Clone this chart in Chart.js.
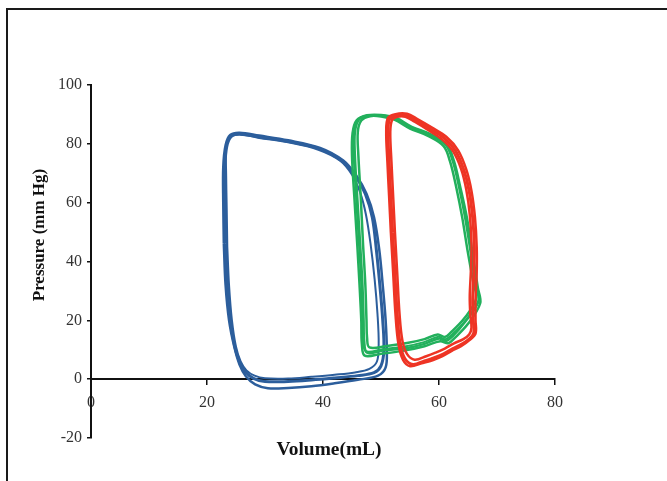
<!DOCTYPE html>
<html>
<head>
<meta charset="utf-8">
<script src="https://cdn.jsdelivr.net/npm/chart.js@4"></script>
<style>body{margin:0;background:#fff}</style>
</head>
<body>
<canvas id="pv" width="667" height="481"></canvas>
<script>
const xTicks = [0, 20, 40, 60, 80];
const yTicks = [-20, 0, 20, 40, 60, 80, 100];

// volume (mL), pressure (mm Hg) pairs
const blueLoop1 = [[23.2,46],[23.5,32],[24,20],[24.8,11],[25.6,6],[26.6,2.5],[28,0.3],[30,-0.8],[34,-0.8],[38,-0.3],[42,0.4],[46,1.2],[48.8,2.2],[50,4.5],[50.5,10],[50.3,20],[49.8,32],[49.2,44],[48.5,55],[47.3,63],[45.6,69],[43.4,74],[39.5,78.2],[34,80.8],[29,82.3],[25.8,83.3],[24.2,82.5],[23.4,79],[23.1,72],[23.1,60],[23.2,46]];
const blueLoop2 = [[22.9,46],[23.2,32],[23.8,20],[24.7,11],[25.6,5],[26.7,1],[28.3,-1.8],[30.5,-3.1],[34,-3],[38,-2.4],[42,-1.4],[46,-0.2],[49.5,1.2],[50.8,4],[51,10],[50.8,20],[50.3,32],[49.7,44],[48.8,55],[47.5,63],[45.7,69.3],[43.5,74.3],[39.5,78.6],[34,81.2],[29,82.8],[25.6,83.8],[24,83],[23.2,79.5],[22.8,72],[22.8,60],[22.9,46]];
const blueLoop3 = [[23.5,45],[23.8,32],[24.3,20],[25,11],[25.8,6],[26.8,3],[28.2,1.2],[30,0.3],[34,0.2],[38,0.8],[42,1.5],[45.5,2.3],[48,3.5],[49.3,6],[49.6,12],[49.4,22],[48.9,34],[48.2,46],[47.4,56],[46.4,63.5],[45,69.5],[43,74.2],[39.2,78],[34,80.5],[29,82],[25.5,83.2],[23.9,82],[23.3,78.5],[23.3,70],[23.4,58],[23.5,45]];

const greenLoop1 = [[46.4,46],[46.8,32],[47,20],[47.1,13],[47.6,9],[50.5,9.8],[54.5,10.6],[57.5,12],[60,13.8],[61.2,13],[62.3,14.5],[64.5,19.5],[66.8,26.5],[66.3,32],[65.4,44],[64.5,55],[63.5,65],[62.4,74],[61.2,79.5],[58.5,83],[55.2,85.5],[52.5,88.5],[50,89.6],[47.8,89.6],[46.2,88.2],[45.5,84],[45.5,76],[45.9,62],[46.4,46]];
const greenLoop2 = [[45.9,46],[46.3,32],[46.6,20],[46.7,12],[47.2,8],[50,8.6],[54,9.7],[57.5,11.2],[60.2,12.9],[61.6,12.2],[62.6,13.8],[65,18.8],[67.1,25.8],[66.7,31],[65.7,44],[64.8,55],[63.7,65],[62.6,74],[61.4,79.5],[58.6,83.2],[55.3,85.8],[52.6,88.8],[50,89.8],[47.6,89.7],[45.8,88],[45.1,83.7],[45,76],[45.4,62],[45.9,46]];
const greenLoop3 = [[46.9,46],[47.3,32],[47.5,20],[47.6,14],[48,10.8],[51,11.3],[54.5,12.3],[57.5,13.6],[59.8,15.2],[61,14.3],[62,15.8],[64.3,20.5],[66.4,27.2],[65.9,33],[64.9,44],[64,55],[63,65],[61.9,74],[60.8,79.2],[58.1,82.7],[55,85.2],[52.3,88.2],[50,89.3],[48.1,89.4],[46.6,87.9],[46,84],[46.1,76],[46.5,62],[46.9,46]];
const greenLoop4 = [[46.2,46],[46.6,32],[46.8,20],[46.9,13],[47.4,9.5],[50.3,10.2],[54.3,11.2],[57.4,12.6],[59.9,14.4],[61.1,13.6],[62.2,15.1],[64.6,20],[66.9,27],[66.5,32],[65.5,44],[64.6,55],[63.6,65],[62.5,74],[61.3,79.6],[58.6,83.1],[55.2,85.7],[52.4,88.6],[49.9,89.7],[47.7,89.6],[46,88.1],[45.3,83.8],[45.3,76],[45.7,62],[46.2,46]];

const redLoop1 = [[52,50],[52.4,36],[52.8,22],[53.3,12],[54.1,7],[55.5,5],[57.5,6.2],[59.2,7.3],[60.8,8.6],[62.4,10.4],[64,12],[65.3,13.8],[66,15.8],[65.9,20],[65.8,27],[66,36],[66.1,45],[65.8,55],[65.2,64],[64.3,71],[62.9,77.5],[61,81.8],[58.5,85],[56,88],[54.3,89.8],[52.6,89.8],[51.5,88.5],[51.2,84],[51.4,74],[51.7,62],[52,50]];
const redLoop2 = [[52.4,50],[52.8,36],[53.2,22],[53.7,13],[54.5,8.5],[55.8,6.6],[57.8,7.8],[59.4,9],[61,10.4],[62.6,12.2],[64.2,13.6],[65.2,15.2],[65.6,17.5],[65.4,22],[65.3,28],[65.5,37],[65.6,46],[65.3,56],[64.7,64.5],[63.8,71.5],[62.4,77.5],[60.5,81.5],[58.1,84.7],[55.8,87.5],[54.2,89.2],[52.8,89.2],[51.9,88],[51.6,84],[51.8,74],[52.1,62],[52.4,50]];
const redLoop3 = [[51.7,50],[52.1,36],[52.5,22],[53,12],[53.8,6.5],[55,4.4],[57,5.4],[59,6.5],[60.6,7.8],[62.2,9.6],[63.8,11.2],[65.2,13.2],[66.3,15.5],[66.3,20],[66.3,27],[66.5,36],[66.5,45],[66.2,55],[65.6,64],[64.7,71.3],[63.3,77.8],[61.3,82.3],[58.8,85.5],[56.2,88.5],[54.5,90.2],[52.5,90.1],[51.2,88.8],[50.9,84],[51.1,74],[51.4,62],[51.7,50]];

const serif = "'Liberation Serif', 'Times New Roman', serif";

function loop(data, color, width, order) {
    return {
        data: data,
        showLine: true,
        borderColor: color,
        borderWidth: width,
        pointRadius: 0,
        tension: 0.35,
        fill: false,
        order: order,
    };
}

const frame = {
    id: "frame",
    beforeDraw(chart) {
        const c = chart.ctx;
        c.save();
        c.fillStyle = "#fff";
        c.fillRect(0, 0, chart.width, chart.height);
        c.strokeStyle = "#1a1a1a";
        c.lineWidth = 2;
        c.beginPath();
        c.moveTo(7, chart.height);
        c.lineTo(7, 9);
        c.lineTo(chart.width, 9);
        c.stroke();
        c.restore();
    },
    afterDraw(chart) {
        const c = chart.ctx;
        c.save();
        c.fillStyle = "#111";
        c.textAlign = "center";
        c.textBaseline = "middle";
        c.save();
        c.translate(329, 450);
        c.scale(1.08, 1);
        c.font = "bold 18px " + serif;
        c.fillText("Volume(mL)", 0, 0);
        c.restore();
        c.font = "bold 17px " + serif;
        c.translate(40, 235);
        c.rotate(-Math.PI / 2);
        c.fillText("Pressure (mm Hg)", 0, 0);
        c.restore();
    }
};

const blue = "#2c5e9c", green = "#22b05c", red = "#ee3424";

new Chart(document.getElementById("pv"), {
    type: "scatter",
    data: {
        datasets: [
            loop(blueLoop1, blue, 3, 3),
            loop(blueLoop2, blue, 2.5, 3),
            loop(blueLoop3, blue, 2, 3),
            loop(greenLoop1, green, 2.5, 2),
            loop(greenLoop2, green, 2.5, 2),
            loop(greenLoop3, green, 2.5, 2),
            loop(greenLoop4, green, 2, 2),
            loop(redLoop1, red, 3, 1),
            loop(redLoop2, red, 2.5, 1),
            loop(redLoop3, red, 2.5, 1),
        ]
    },
    options: {
        responsive: false,
        animation: false,
        devicePixelRatio: 1,
        layout: { padding: { left: 0, top: 85, right: 112, bottom: 43 } },
        scales: {
            x: {
                type: "linear",
                min: 0,
                max: 80,
                position: { y: 0 },
                afterBuildTicks: (s) => { s.ticks = xTicks.map(v => ({ value: v })); },
                afterFit: (s) => { s.height = 0; },
                grid: { drawOnChartArea: false, tickLength: 5, color: "#111", lineWidth: 1.5 },
                border: { color: "#111", width: 2 },
                ticks: { font: { family: serif, size: 16 }, color: "#333", padding: 9, maxRotation: 0 },
            },
            y: {
                min: -20,
                max: 100,
                afterBuildTicks: (s) => { s.ticks = yTicks.map(v => ({ value: v })); },
                afterFit: (s) => { s.width = 91; },
                grid: { drawOnChartArea: false, tickLength: 4, color: "#111", lineWidth: 1.5 },
                border: { color: "#111", width: 2 },
                ticks: { font: { family: serif, size: 16 }, color: "#333", padding: 5 },
            },
        },
        plugins: {
            legend: { display: false },
            tooltip: { enabled: false },
        }
    },
    plugins: [frame]
});
</script>
</body>
</html>
